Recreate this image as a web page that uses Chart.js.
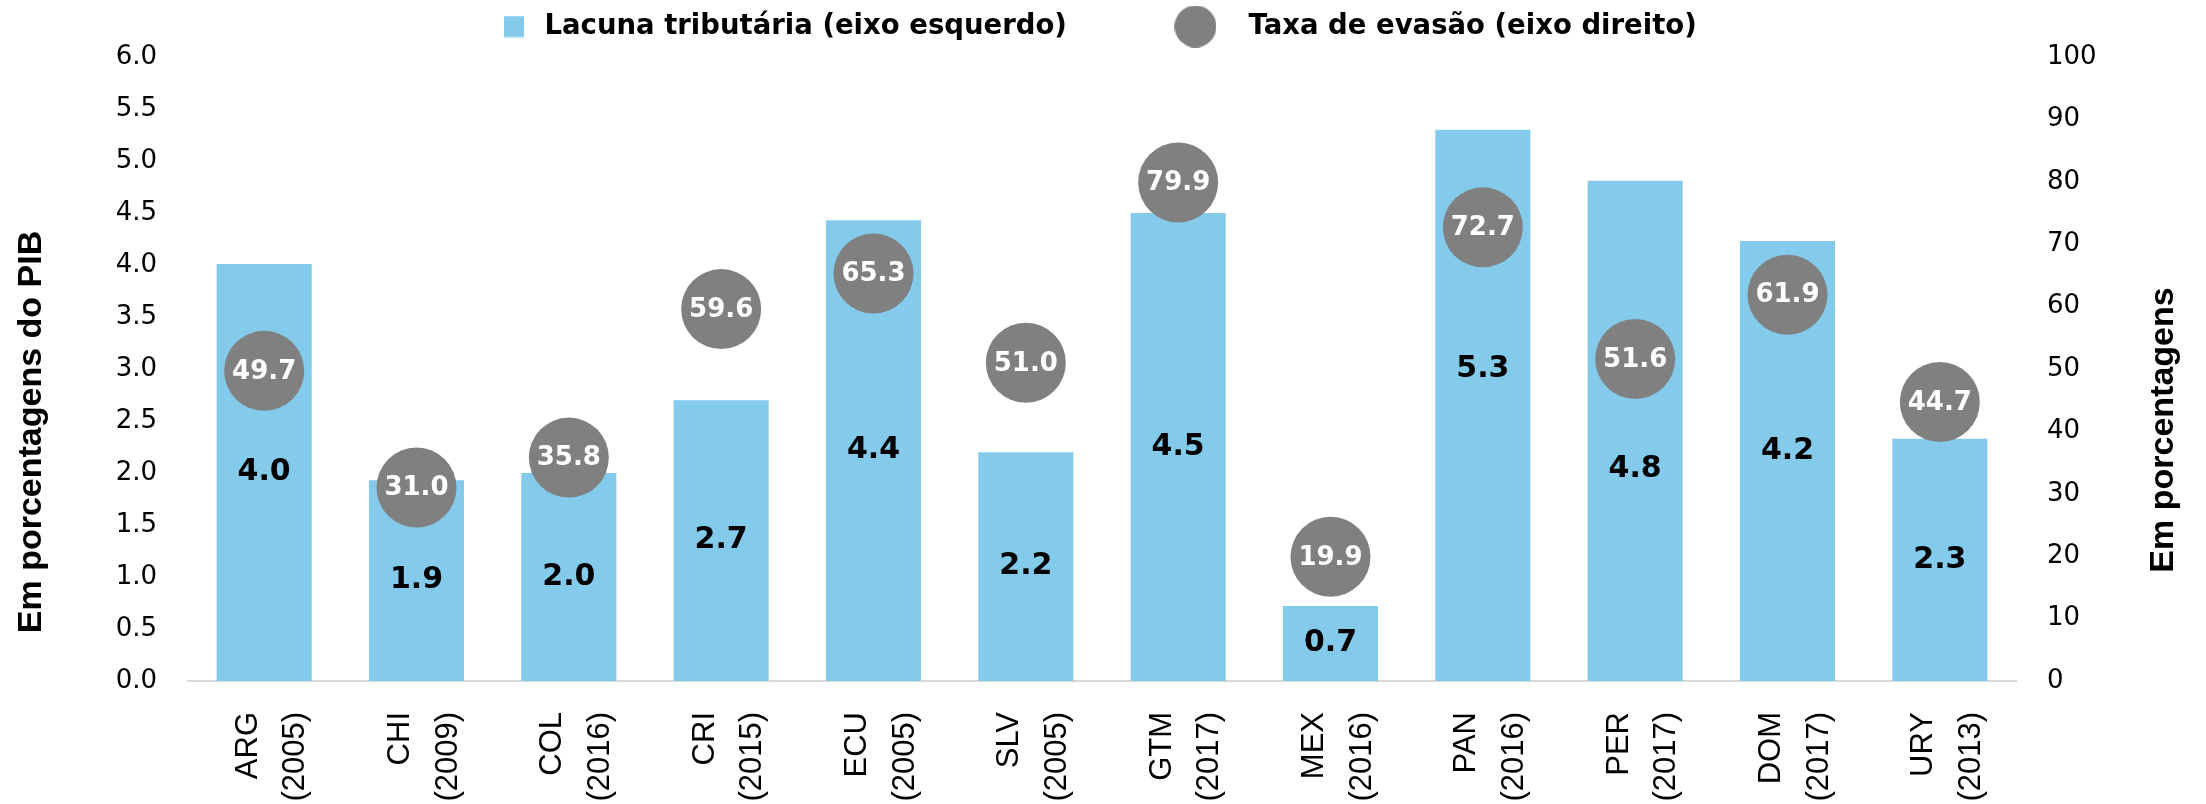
<!DOCTYPE html>
<html><head><meta charset="utf-8">
<script src="https://cdn.jsdelivr.net/npm/chart.js@4.4.1/dist/chart.umd.min.js"></script>
<style>html,body{margin:0;padding:0;background:#fff;}canvas{display:block;}</style>
</head><body>
<div style="width:2206px;height:804px;"><canvas id="c" width="2206" height="804"></canvas></div>
<script>
// ---- data ----
const countries = ['ARG','CHI','COL','CRI','ECU','SLV','GTM','MEX','PAN','PER','DOM','URY'];
const years = ['(2005)','(2009)','(2016)','(2015)','(2005)','(2005)','(2017)','(2016)','(2016)','(2017)','(2017)','(2013)'];
const taxGap = [4.01,1.93,2.00,2.70,4.43,2.20,4.50,0.72,5.30,4.81,4.23,2.33];
const evasionRate = [49.7,31.0,35.8,59.6,65.3,51.0,79.9,19.9,72.7,51.6,61.9,44.7];
const seriesNames = ['Lacuna tributária (eixo esquerdo)','Taxa de evasão (eixo direito)'];
const axisTitleLeft = 'Em porcentagens do PIB';
const axisTitleRight = 'Em porcentagens';

const BAR_COLOR = '#83CAEB';
const DOT_COLOR = '#808080';
const ARIAL = '"Liberation Sans", Arial, sans-serif';
const WIDE = '"DejaVu Sans", Verdana, sans-serif';

// legend marker images
function squareImg(){
  const c = document.createElement('canvas'); c.width = 65; c.height = 22;
  const g = c.getContext('2d'); g.fillStyle = BAR_COLOR; g.fillRect(45, 0.5, 20, 21); return c;
}
function circleImg(){
  const c = document.createElement('canvas'); c.width = 42; c.height = 42;
  const g = c.getContext('2d'); g.fillStyle = DOT_COLOR; g.beginPath(); g.arc(21,21,21,0,Math.PI*2); g.fill(); return c;
}

const valueLabels = {
  id: 'valueLabels',
  afterDatasetsDraw(chart, args, opts) {
    const ctx = chart.ctx;
    ctx.save();
    ctx.textAlign = 'center'; ctx.textBaseline = 'middle';
    const bm = chart.getDatasetMeta(0);
    ctx.font = 'bold 30px ' + WIDE; ctx.fillStyle = '#000';
    bm.data.forEach((el, i) => {
      const v = chart.data.datasets[0].data[i];
      ctx.fillText(v.toFixed(1), el.x, (el.y + el.base) / 2 + (opts.barShift[i] || 0));
    });
    const pm = chart.getDatasetMeta(1);
    ctx.font = 'bold 26px ' + WIDE; ctx.fillStyle = '#fff';
    pm.data.forEach((el, i) => {
      ctx.fillText(chart.data.datasets[1].data[i].toFixed(1), el.x, el.y + 1);
    });
    ctx.restore();
  }
};

const axisTitles = {
  id: 'axisTitles',
  afterDraw(chart, args, opts) {
    const ctx = chart.ctx;
    ctx.save();
    ctx.font = 'bold 34px ' + ARIAL; ctx.fillStyle = '#000';
    ctx.textAlign = 'center'; ctx.textBaseline = 'middle';
    opts.items.forEach(t => {
      ctx.save(); ctx.translate(t.x, t.y); ctx.rotate(-Math.PI / 2); ctx.fillText(t.text, 0, 0); ctx.restore();
    });
    ctx.restore();
  }
};

new Chart(document.getElementById('c'), {
  data: {
    labels: countries.map((c, i) => [c, years[i]]),
    datasets: [
      { type: 'bar', label: seriesNames[0], data: taxGap, yAxisID: 'y', backgroundColor: BAR_COLOR,
        barPercentage: 0.624, categoryPercentage: 1, order: 1 },
      { type: 'line', label: seriesNames[1], data: evasionRate, yAxisID: 'y1', showLine: false,
        pointRadius: 40, pointHoverRadius: 40, pointBorderWidth: 0, backgroundColor: DOT_COLOR,
        borderColor: DOT_COLOR, order: 0 }
    ]
  },
  options: {
    responsive: false, animation: false, devicePixelRatio: 1,
    layout: { padding: { top: 0, right: 57, bottom: 0, left: 0 } },
    plugins: {
      tooltip: { enabled: false },
      // thin spacer between legend and plot area
      title: { display: true, text: ' ', position: 'top', weight: 500, padding: 0,
        font: { size: 1, lineHeight: 6.75 } },
      legend: {
        position: 'top', align: 'center',
        labels: {
          usePointStyle: true, pointStyleWidth: 78.5, padding: 12.75, color: '#000',
          font: { family: WIDE, size: 27.5, weight: 'bold' },
          generateLabels() {
            return [
              { text: seriesNames[0] + ' '.repeat(8), pointStyle: squareImg(), fillStyle: BAR_COLOR, strokeStyle: 'rgba(0,0,0,0)', lineWidth: 0, hidden: false, datasetIndex: 0, fontColor: '#000' },
              { text: seriesNames[1], pointStyle: circleImg(), fillStyle: DOT_COLOR, strokeStyle: 'rgba(0,0,0,0)', lineWidth: 0, hidden: false, datasetIndex: 1, fontColor: '#000' }
            ];
          }
        }
      },
      valueLabels: { barShift: { 8: -36, 9: 38, 10: -10 } },
      axisTitles: { items: [
        { text: axisTitleLeft, x: 32, y: 432 },
        { text: axisTitleRight, x: 2164, y: 430 }
      ] }
    },
    scales: {
      x: {
        offset: true,
        grid: { display: false, drawTicks: false },
        border: { display: true, color: '#d9d9d9', width: 2 },
        ticks: { minRotation: 90, maxRotation: 90, autoSkip: false, padding: 31, labelOffset: -16,
          color: '#000', font: { family: ARIAL, size: 31, lineHeight: 1.54 } },
        afterFit(s) { s.height = 123; }
      },
      y: {
        position: 'left', min: 0, max: 6,
        grid: { display: false, drawTicks: false }, border: { display: false },
        ticks: { stepSize: 0.5, padding: 31, color: '#000', font: { family: WIDE, size: 26 },
          callback: v => Number(v).toFixed(1) },
        afterFit(s) { s.width = 188; }
      },
      y1: {
        position: 'right', min: 0, max: 100,
        grid: { display: false, drawTicks: false }, border: { display: false },
        ticks: { stepSize: 10, padding: 31, color: '#000', font: { family: WIDE, size: 26 } },
        afterFit(s) { s.width = 133; }
      }
    }
  },
  plugins: [valueLabels, axisTitles]
});
</script>
</body></html>
